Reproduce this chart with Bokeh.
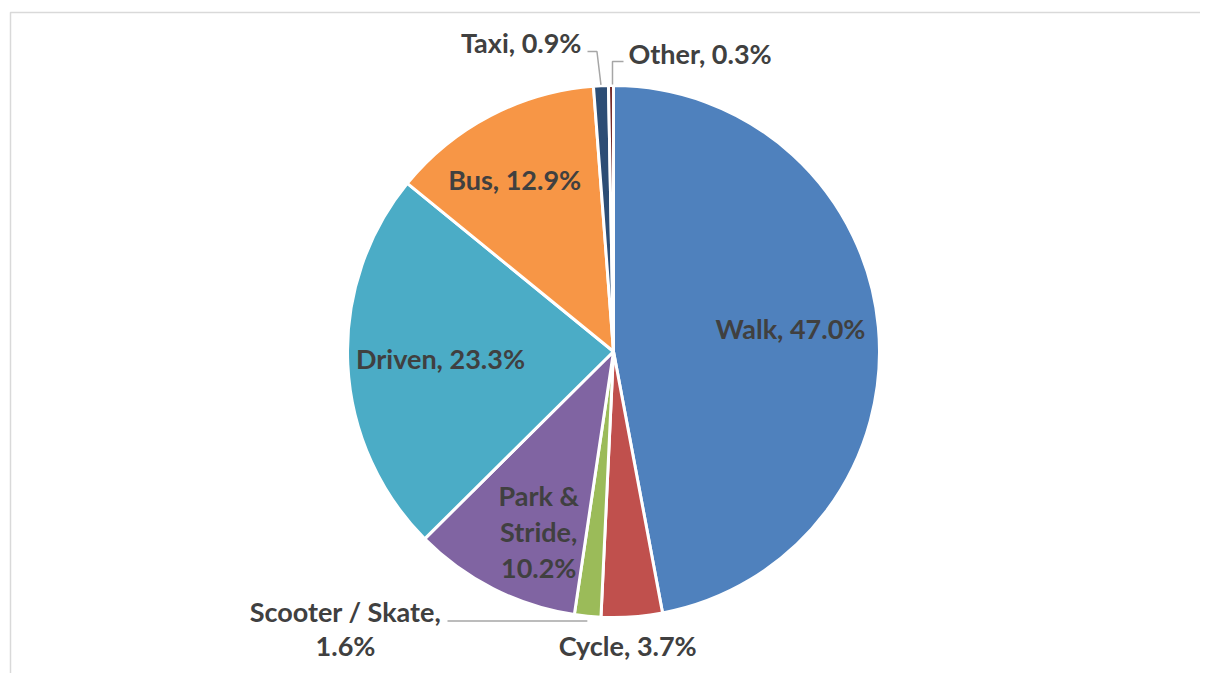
import math
from bokeh.plotting import figure
from bokeh.models import Range1d, ColumnDataSource
from bokeh.embed import file_html
from bokeh.resources import INLINE
from bokeh.core.properties import value

# ---- data ----
categories = ["Walk", "Cycle", "Scooter / Skate", "Park & Stride", "Driven", "Bus", "Taxi", "Other"]
shares = [47.0, 3.7, 1.6, 10.2, 23.3, 12.9, 0.9, 0.3]

# ---- style ----
colors = ["#4F81BD", "#C0504D", "#9BBB59", "#8064A2", "#4BACC6", "#F79646", "#2C4D75", "#772C2A"]
W, H = 1200, 673
def px(x):  # page pixel -> data x
    return x
def py(y):  # page pixel -> data y
    return H - y

CX, CY, R = 613, 351, 266          # pie centre / radius in page pixels
FONT = "Lato"
FSIZE = "27px"
TXT = "#404040"

total = sum(shares)
starts, ends, mids = [], [], []
cum = 0.0
for v in shares:
    a0 = math.pi / 2 - 2 * math.pi * cum / total
    cum += v
    a1 = math.pi / 2 - 2 * math.pi * cum / total
    starts.append(a0); ends.append(a1); mids.append((a0 + a1) / 2)

p = figure(width=W, height=H, x_range=Range1d(0, W), y_range=Range1d(0, H),
           output_backend="svg", toolbar_location=None, min_border=0,
           x_axis_type=None, y_axis_type=None)
p.grid.visible = False
p.outline_line_color = None
p.background_fill_color = "white"
p.border_fill_color = "white"

# chart-area frame (top & left visible in window)
p.line([px(10), px(10), px(W)], [py(H), py(12), py(12)], line_color="#D9D9D9", line_width=1.5)

src = ColumnDataSource(dict(x=[px(CX)] * len(shares), y=[py(CY)] * len(shares),
                            start=starts, end=ends, color=colors))
p.wedge(x="x", y="y", radius=R, radius_units="screen", start_angle="start", end_angle="end",
        direction="clock", fill_color="color", line_color="white", line_width=3, source=src)

# label layout: inside labels via radial factor / angular nudge (deg)
inside = {0: (0.671, 2.1), 1: (1.106, -1.2), 3: (0.733, 4.3), 4: (0.651, -0.5), 5: (0.746, 2.3)}
wrap = {2: "Scooter / Skate,\n{v}", 3: "Park &\nStride,\n{v}"}

def label_text(i):
    v = f"{shares[i]:.1f}%"
    if i in wrap:
        return wrap[i].format(v=v)
    return f"{categories[i]}, {v}"

lx, ly, lt = [], [], []
for i, (f, d) in inside.items():
    a = mids[i] + math.radians(d)
    lx.append(px(CX + R * f * math.cos(a)))
    ly.append(py(CY - R * f * math.sin(a)))
    lt.append(label_text(i))
p.text(x=lx, y=ly, text=lt, text_align="center", text_baseline="middle",
       text_font=value(FONT), text_font_style="bold", text_font_size=FSIZE,
       text_color=TXT, text_line_height=1.08)

def edge(i, f=1.0):
    a = mids[i]
    return CX + R * f * math.cos(a), CY - R * f * math.sin(a)

LEAD = "#A6A6A6"
# Scooter / Skate
ex, ey = edge(2, 1.01)
p.line([px(ex), px(447)], [py(ey + 2), py(ey + 2)], line_color=LEAD, line_width=1.5)
p.text(x=[px(345)], y=[py(628)], text=[label_text(2)], text_align="center", text_baseline="middle",
       text_font=value(FONT), text_font_style="bold", text_font_size=FSIZE,
       text_color=TXT, text_line_height=1.05)
# Taxi
ex, ey = edge(6, 1.0)
p.line([px(ex), px(ex - 4), px(587)], [py(ey - 1), py(51), py(51)], line_color=LEAD, line_width=1.5)
p.text(x=[px(581)], y=[py(42)], text=[label_text(6)], text_align="right", text_baseline="middle",
       text_font=value(FONT), text_font_style="bold", text_font_size=FSIZE, text_color=TXT)
# Other
ex, ey = edge(7, 1.0)
p.line([px(ex + 1.5), px(ex + 1.5), px(623)], [py(ey - 1), py(61), py(61)], line_color=LEAD, line_width=1.5)
p.text(x=[px(628)], y=[py(53)], text=[label_text(7)], text_align="left", text_baseline="middle",
       text_font=value(FONT), text_font_style="bold", text_font_size=FSIZE, text_color=TXT)

open("out.html", "w").write(file_html(p, INLINE))
